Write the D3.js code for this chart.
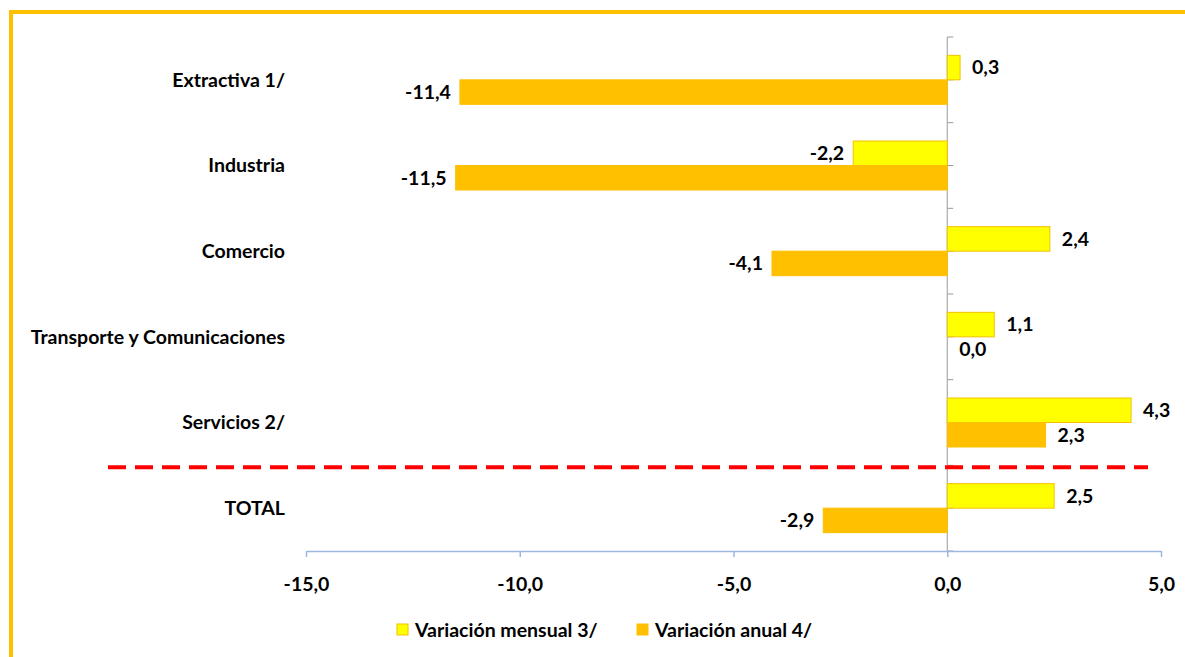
<!DOCTYPE html>
<html>
<head>
<meta charset="utf-8">
<script src="https://cdn.jsdelivr.net/npm/d3@7"></script>
<style>
  body { margin: 0; background: #fff; }
  svg text { font-family: Lato, "Open Sans", sans-serif; font-weight: bold; fill: #000; }
</style>
</head>
<body>
<div id="grafico"></div>
<script>
const categorias = ["Extractiva 1/", "Industria", "Comercio", "Transporte y Comunicaciones", "Servicios 2/", "TOTAL"];
const variacionMensual = [0.3, -2.2, 2.4, 1.1, 4.3, 2.5];
const variacionAnual = [-11.4, -11.5, -4.1, 0.0, 2.3, -2.9];
const ticksX = [-15, -10, -5, 0, 5];
const series = [
  { nombre: "Variación mensual 3/", valores: variacionMensual, color: "#FFFF00", borde: "#F2C200" },
  { nombre: "Variación anual 4/", valores: variacionAnual, color: "#FFC000", borde: "#FFC000" }
];

const width = 1185, height = 657;
const tam = 19.5;
const svg = d3.select("#grafico").append("svg").attr("width", width).attr("height", height);

// marco naranja
svg.append("rect")
  .attr("x", 11).attr("y", 12).attr("width", width + 20).attr("height", height + 20)
  .attr("fill", "none").attr("stroke", "#FFC000").attr("stroke-width", 4);

const x = d3.scaleLinear().domain([-15, 5]).range([306, 1161]);
const y = d3.scaleBand().domain(categorias).range([37, 551]);
const yInner = d3.scaleBand().domain([0, 1]).range([0, 49]);
const fmt = (v) => d3.format(".1f")(v).replace(".", ",").replace("−", "-");

// eje vertical en 0
const x0 = x(0);
svg.append("line").attr("x1", x0).attr("x2", x0).attr("y1", y.range()[0]).attr("y2", y.range()[1])
  .attr("stroke", "#9a9a9a").attr("stroke-width", 1);
const marcas = [];
categorias.forEach((c) => { marcas.push(y(c)); marcas.push(y(c) + y.bandwidth() / 2); });
marcas.push(y.range()[1]);
svg.selectAll(".marca").data(marcas).enter().append("line")
  .attr("x1", x0).attr("x2", x0 + 6).attr("y1", (d) => d).attr("y2", (d) => d)
  .attr("stroke", "#9a9a9a").attr("stroke-width", 1);

// barras
series.forEach((s, i) => {
  const g = svg.append("g");
  g.selectAll("rect").data(s.valores).enter().append("rect")
    .attr("x", (d) => x(Math.min(0, d)))
    .attr("width", (d) => Math.abs(x(d) - x(0)))
    .attr("y", (d, j) => y(categorias[j]) + (y.bandwidth() - 49) / 2 + yInner(i))
    .attr("height", yInner.bandwidth())
    .attr("fill", s.color).attr("stroke", s.borde).attr("stroke-width", 1);
  g.selectAll("text").data(s.valores).enter().append("text")
    .attr("x", (d) => d < 0 ? x(d) - 9 : x(d) + 12)
    .attr("y", (d, j) => y(categorias[j]) + (y.bandwidth() - 49) / 2 + yInner(i) + yInner.bandwidth() / 2)
    .attr("dy", "0.35em")
    .attr("text-anchor", (d) => d < 0 ? "end" : "start")
    .attr("font-size", tam)
    .text((d) => fmt(d));
});

// eje horizontal
const ejeX = svg.append("g").attr("transform", "translate(0,551)")
  .call(d3.axisBottom(x).tickValues(ticksX).tickSize(6).tickSizeOuter(0).tickFormat(fmt).tickPadding(20));
ejeX.select(".domain").attr("stroke", "#9DB8E0").attr("stroke-width", 1.5);
ejeX.selectAll(".tick line").attr("stroke", "#9DB8E0").attr("stroke-width", 1.5);
ejeX.selectAll(".tick text").attr("font-size", tam).attr("font-family", "Lato, sans-serif").attr("font-weight", "bold").attr("fill", "#000");

// etiquetas de categoría
svg.selectAll(".cat").data(categorias).enter().append("text")
  .attr("x", 285).attr("y", (d) => y(d) + y.bandwidth() / 2).attr("dy", "0.35em")
  .attr("text-anchor", "end").attr("font-size", tam).text((d) => d);

// línea roja discontinua
const ySep = (y("Servicios 2/") + y.bandwidth() + y("TOTAL")) / 2 + 2;
svg.append("line").attr("x1", 108).attr("x2", 1148).attr("y1", ySep).attr("y2", ySep)
  .attr("stroke", "#FF0000").attr("stroke-width", 4).attr("stroke-dasharray", "18,9");

// leyenda
const leyendaX = [397, 637];
series.forEach((s, i) => {
  const lg = svg.append("g").attr("transform", `translate(${leyendaX[i]},624)`);
  lg.append("rect").attr("width", 11).attr("height", 11)
    .attr("fill", s.color).attr("stroke", s.borde).attr("stroke-width", 1);
  lg.append("text").attr("x", 18).attr("y", 6).attr("dy", "0.35em").attr("font-size", tam).text(s.nombre);
});
</script>
</body>
</html>
